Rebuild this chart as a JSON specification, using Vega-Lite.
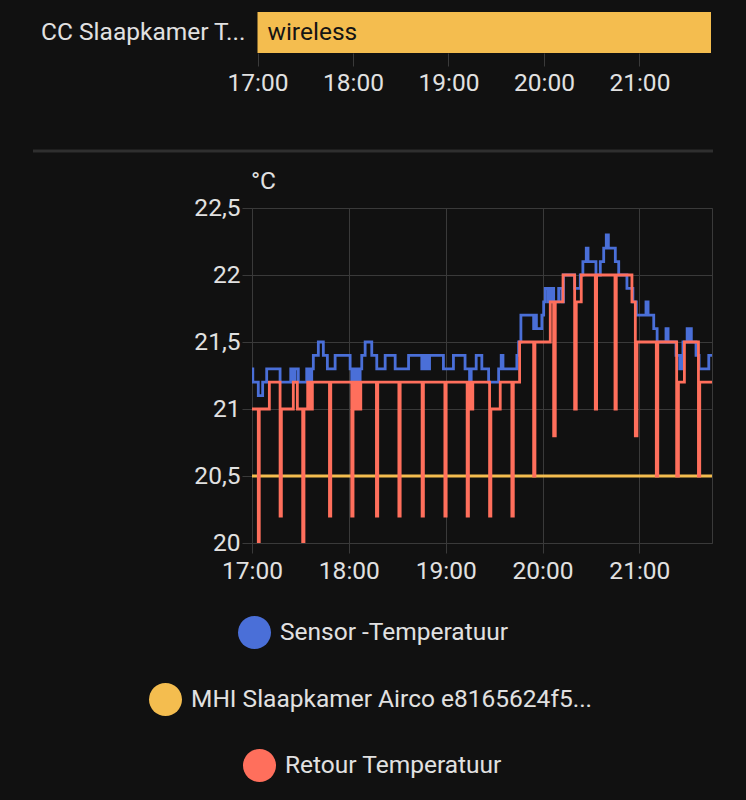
{
  "$schema": "https://vega.github.io/schema/vega-lite/v6.json",
  "background": "#111111",
  "padding": {"left": 31, "top": 12, "right": 34, "bottom": 18},
  "bounds": "flush",
  "spacing": 0,
  "config": {
    "font": "Roboto",
    "view": {"stroke": null},
    "axis": {"labelColor": "#e1e1e1", "labelFont": "Roboto", "labelFontSize": 24.5, "labelFlush": false, "titleColor": "#e1e1e1", "titleFont": "Roboto", "titleFontWeight": "normal", "titleFontSize": 24.5, "gridColor": "#3a3a3a", "tickColor": "#3a3a3a", "domain": false}
  },
  "datasets": {
    "timeline": [{"entity": "CC Slaapkamer T...", "status": "wireless", "start": "2024-01-01T17:00:00", "end": "2024-01-01T21:45:00"}],
    "divider": [{"start": 0, "end": 1, "level": 0.368}],
    "sensor": [
      {"time":"2024-01-01T17:00:00","value":21.3},{"time":"2024-01-01T17:00:30","value":21.2},{"time":"2024-01-01T17:03:54","value":21.1},{"time":"2024-01-01T17:06:36","value":21.2},{"time":"2024-01-01T17:09:06","value":21.3},{"time":"2024-01-01T17:17:24","value":21.2},{"time":"2024-01-01T17:24:00","value":21.3},{"time":"2024-01-01T17:25:36","value":21.2},{"time":"2024-01-01T17:26:42","value":21.3},{"time":"2024-01-01T17:28:42","value":21.2},{"time":"2024-01-01T17:33:54","value":21.3},{"time":"2024-01-01T17:35:00","value":21.2},{"time":"2024-01-01T17:35:36","value":21.3},{"time":"2024-01-01T17:36:24","value":21.2},{"time":"2024-01-01T17:37:00","value":21.3},{"time":"2024-01-01T17:38:00","value":21.4},{"time":"2024-01-01T17:41:06","value":21.5},{"time":"2024-01-01T17:44:12","value":21.4},{"time":"2024-01-01T17:46:42","value":21.3},{"time":"2024-01-01T17:51:30","value":21.4},
      {"time":"2024-01-01T18:00:48","value":21.3},{"time":"2024-01-01T18:01:48","value":21.2},{"time":"2024-01-01T18:02:48","value":21.3},{"time":"2024-01-01T18:03:54","value":21.2},{"time":"2024-01-01T18:04:54","value":21.3},{"time":"2024-01-01T18:06:00","value":21.2},{"time":"2024-01-01T18:07:00","value":21.3},{"time":"2024-01-01T18:08:00","value":21.4},{"time":"2024-01-01T18:10:06","value":21.5},{"time":"2024-01-01T18:14:12","value":21.4},{"time":"2024-01-01T18:17:18","value":21.3},{"time":"2024-01-01T18:22:30","value":21.4},{"time":"2024-01-01T18:28:42","value":21.3},{"time":"2024-01-01T18:37:00","value":21.4},{"time":"2024-01-01T18:45:12","value":21.3},{"time":"2024-01-01T18:46:12","value":21.4},{"time":"2024-01-01T18:47:18","value":21.3},{"time":"2024-01-01T18:48:18","value":21.4},{"time":"2024-01-01T18:49:18","value":21.3},{"time":"2024-01-01T18:50:00","value":21.4},{"time":"2024-01-01T18:58:36","value":21.3},
      {"time":"2024-01-01T19:04:48","value":21.4},{"time":"2024-01-01T19:12:00","value":21.3},{"time":"2024-01-01T19:14:48","value":21.2},{"time":"2024-01-01T19:15:48","value":21.3},{"time":"2024-01-01T19:18:54","value":21.4},{"time":"2024-01-01T19:22:24","value":21.3},{"time":"2024-01-01T19:26:36","value":21.2},{"time":"2024-01-01T19:32:48","value":21.3},{"time":"2024-01-01T19:34:24","value":21.4},{"time":"2024-01-01T19:35:30","value":21.3},{"time":"2024-01-01T19:44:06","value":21.4},{"time":"2024-01-01T19:45:12","value":21.5},{"time":"2024-01-01T19:46:36","value":21.7},{"time":"2024-01-01T19:54:30","value":21.6},{"time":"2024-01-01T19:55:30","value":21.7},{"time":"2024-01-01T19:56:12","value":21.6},{"time":"2024-01-01T19:59:36","value":21.7},
      {"time":"2024-01-01T20:00:42","value":21.8},{"time":"2024-01-01T20:01:42","value":21.9},{"time":"2024-01-01T20:03:30","value":21.8},{"time":"2024-01-01T20:04:12","value":21.9},{"time":"2024-01-01T20:05:00","value":21.8},{"time":"2024-01-01T20:05:42","value":21.9},{"time":"2024-01-01T20:06:54","value":21.8},{"time":"2024-01-01T20:10:00","value":21.9},{"time":"2024-01-01T20:12:00","value":21.8},{"time":"2024-01-01T20:13:00","value":22},{"time":"2024-01-01T20:19:54","value":21.9},{"time":"2024-01-01T20:23:24","value":22},{"time":"2024-01-01T20:25:00","value":22.1},{"time":"2024-01-01T20:27:06","value":22.2},{"time":"2024-01-01T20:28:12","value":22.1},{"time":"2024-01-01T20:33:06","value":22},{"time":"2024-01-01T20:35:48","value":22.1},{"time":"2024-01-01T20:37:54","value":22.2},{"time":"2024-01-01T20:39:30","value":22.3},{"time":"2024-01-01T20:40:48","value":22.2},{"time":"2024-01-01T20:45:06","value":22.1},{"time":"2024-01-01T20:47:12","value":22},{"time":"2024-01-01T20:52:18","value":21.9},{"time":"2024-01-01T20:56:00","value":21.8},{"time":"2024-01-01T20:58:06","value":21.7},
      {"time":"2024-01-01T21:04:06","value":21.8},{"time":"2024-01-01T21:05:24","value":21.7},{"time":"2024-01-01T21:08:54","value":21.6},{"time":"2024-01-01T21:11:00","value":21.5},{"time":"2024-01-01T21:16:30","value":21.6},{"time":"2024-01-01T21:17:48","value":21.5},{"time":"2024-01-01T21:22:42","value":21.4},{"time":"2024-01-01T21:25:00","value":21.3},{"time":"2024-01-01T21:26:30","value":21.4},{"time":"2024-01-01T21:27:00","value":21.5},{"time":"2024-01-01T21:29:36","value":21.6},{"time":"2024-01-01T21:30:18","value":21.5},{"time":"2024-01-01T21:31:00","value":21.6},{"time":"2024-01-01T21:32:12","value":21.5},{"time":"2024-01-01T21:35:06","value":21.4},{"time":"2024-01-01T21:37:00","value":21.3},{"time":"2024-01-01T21:43:00","value":21.4},{"time":"2024-01-01T21:45:00","value":21.4}
    ],
    "mhi": [{"time":"2024-01-01T17:00:00","value":20.5},{"time":"2024-01-01T21:45:00","value":20.5}],
    "retour": [
      {"time":"2024-01-01T17:00:00","value":21},{"time":"2024-01-01T17:03:54","value":20},{"time":"2024-01-01T17:04:30","value":21},{"time":"2024-01-01T17:10:45","value":21.2},{"time":"2024-01-01T17:17:24","value":20.2},{"time":"2024-01-01T17:18:12","value":21},{"time":"2024-01-01T17:25:36","value":21.2},{"time":"2024-01-01T17:28:06","value":21},{"time":"2024-01-01T17:31:24","value":20},{"time":"2024-01-01T17:32:12","value":21},{"time":"2024-01-01T17:34:30","value":21.2},{"time":"2024-01-01T17:35:06","value":21},{"time":"2024-01-01T17:36:00","value":21.2},{"time":"2024-01-01T17:36:36","value":21},{"time":"2024-01-01T17:37:24","value":21.2},{"time":"2024-01-01T17:48:00","value":20.2},{"time":"2024-01-01T17:48:48","value":21.2},
      {"time":"2024-01-01T18:01:48","value":20.2},{"time":"2024-01-01T18:02:36","value":21.2},{"time":"2024-01-01T18:03:18","value":21},{"time":"2024-01-01T18:04:18","value":21.2},{"time":"2024-01-01T18:04:54","value":21},{"time":"2024-01-01T18:06:00","value":21.2},{"time":"2024-01-01T18:06:36","value":21},{"time":"2024-01-01T18:07:24","value":21.2},{"time":"2024-01-01T18:17:06","value":20.2},{"time":"2024-01-01T18:17:54","value":21.2},{"time":"2024-01-01T18:31:00","value":20.2},{"time":"2024-01-01T18:31:48","value":21.2},{"time":"2024-01-01T18:45:24","value":20.2},{"time":"2024-01-01T18:46:12","value":21.2},{"time":"2024-01-01T18:59:30","value":20.2},
      {"time":"2024-01-01T19:00:18","value":21.2},{"time":"2024-01-01T19:13:18","value":20.2},{"time":"2024-01-01T19:14:06","value":21.2},{"time":"2024-01-01T19:14:48","value":21},{"time":"2024-01-01T19:15:36","value":21.2},{"time":"2024-01-01T19:16:24","value":21},{"time":"2024-01-01T19:16:48","value":21.2},{"time":"2024-01-01T19:27:12","value":20.2},{"time":"2024-01-01T19:28:00","value":21},{"time":"2024-01-01T19:33:48","value":21.2},{"time":"2024-01-01T19:41:00","value":20.2},{"time":"2024-01-01T19:41:54","value":21.2},{"time":"2024-01-01T19:45:48","value":21.5},{"time":"2024-01-01T19:54:30","value":20.5},{"time":"2024-01-01T19:55:18","value":21.5},
      {"time":"2024-01-01T20:04:48","value":21.8},{"time":"2024-01-01T20:06:54","value":20.8},{"time":"2024-01-01T20:07:54","value":21.8},{"time":"2024-01-01T20:12:42","value":22},{"time":"2024-01-01T20:19:54","value":21},{"time":"2024-01-01T20:20:54","value":21.8},{"time":"2024-01-01T20:24:00","value":22},{"time":"2024-01-01T20:32:42","value":21},{"time":"2024-01-01T20:33:30","value":22},{"time":"2024-01-01T20:44:54","value":21},{"time":"2024-01-01T20:45:42","value":22},{"time":"2024-01-01T20:55:24","value":21.8},{"time":"2024-01-01T20:57:30","value":20.8},{"time":"2024-01-01T20:58:30","value":21.5},
      {"time":"2024-01-01T21:10:30","value":20.5},{"time":"2024-01-01T21:11:24","value":21.5},{"time":"2024-01-01T21:23:06","value":20.5},{"time":"2024-01-01T21:24:12","value":21.2},{"time":"2024-01-01T21:27:54","value":21.5},{"time":"2024-01-01T21:36:36","value":20.5},{"time":"2024-01-01T21:37:24","value":21.2},{"time":"2024-01-01T21:45:00","value":21.2}
    ]
  },
  "vconcat": [
    {
      "width": 460,
      "height": 41,
      "data": {"name": "timeline"},
      "layer": [
        {
          "mark": {"type": "bar", "color": "#f4bd4f"},
          "encoding": {
            "y": {"field": "entity", "type": "nominal", "title": null, "scale": {"paddingInner": 0, "paddingOuter": 0}, "axis": {"ticks": false, "labelPadding": 7, "labelLimit": 260}},
            "x": {"field": "start", "type": "temporal", "title": null, "scale": {"range": [5.5, 459]}, "axis": {"format": "%H:%M", "tickCount": 5, "grid": false, "tickSize": 13, "labelPadding": 5}},
            "x2": {"field": "end"}
          }
        },
        {
          "mark": {"type": "text", "align": "left", "dx": 10, "color": "#141414", "fontSize": 24.5, "font": "Roboto"},
          "encoding": {
            "y": {"field": "entity", "type": "nominal"},
            "x": {"field": "start", "type": "temporal"},
            "text": {"field": "status"}
          }
        }
      ]
    },
    {
      "width": 460,
      "height": 155,
      "data": {"name": "divider"},
      "mark": {"type": "rule", "strokeWidth": 3, "color": "#2f2f2f"},
      "encoding": {
        "x": {"field": "start", "type": "quantitative", "scale": {"domain": [0, 1], "range": [-219, 461]}, "axis": null},
        "x2": {"field": "end"},
        "y": {"field": "level", "type": "quantitative", "scale": {"domain": [0, 1]}, "axis": null}
      }
    },
    {
      "width": 460,
      "height": 335,
      "view": {"stroke": "#3a3a3a"},
      "encoding": {
        "x": {"field": "time", "type": "temporal", "title": null, "axis": {"format": "%H:%M", "tickCount": 5, "tickSize": 10, "labelPadding": 6}},
        "y": {"field": "value", "type": "quantitative", "title": "°C", "scale": {"domain": [20, 22.5]}, "axis": {"values": [20, 20.5, 21, 21.5, 22, 22.5], "labelExpr": "replace(format(datum.value, '~g'), '.', ',')", "tickSize": 10, "labelPadding": 2, "titleAngle": 0, "titleAlign": "center", "titleBaseline": "middle", "titleX": 11, "titleY": -27}}
      },
      "layer": [
        {
          "data": {"name": "sensor"},
          "mark": {"type": "line", "interpolate": "step-after", "strokeWidth": 2.8, "clip": true},
          "encoding": {
            "color": {"datum": "Sensor -Temperatuur", "scale": {"range": ["#4a6fd8"]}, "legend": {"title": null, "orient": "none", "legendX": -14, "legendY": 408, "symbolType": "circle", "symbolSize": 1089, "symbolStrokeWidth": 0, "symbolFillColor": "#4a6fd8", "labelColor": "#e1e1e1", "labelFont": "Roboto", "labelFontSize": 24.5, "labelLimit": 500, "labelOffset": 9}}
          }
        },
        {
          "data": {"name": "mhi"},
          "mark": {"type": "line", "interpolate": "step-after", "strokeWidth": 2.8, "clip": true},
          "encoding": {
            "color": {"datum": "MHI Slaapkamer Airco e8165624f5...", "scale": {"range": ["#f4bd4f"]}, "legend": {"title": null, "orient": "none", "legendX": -103, "legendY": 475, "symbolType": "circle", "symbolSize": 1089, "symbolStrokeWidth": 0, "symbolFillColor": "#f4bd4f", "labelColor": "#e1e1e1", "labelFont": "Roboto", "labelFontSize": 24.5, "labelLimit": 500, "labelOffset": 9}}
          }
        },
        {
          "data": {"name": "retour"},
          "mark": {"type": "line", "interpolate": "step-after", "strokeWidth": 2.8, "clip": true},
          "encoding": {
            "color": {"datum": "Retour Temperatuur", "scale": {"range": ["#ff6f5c"]}, "legend": {"title": null, "orient": "none", "legendX": -9, "legendY": 541, "symbolType": "circle", "symbolSize": 1089, "symbolStrokeWidth": 0, "symbolFillColor": "#ff6f5c", "labelColor": "#e1e1e1", "labelFont": "Roboto", "labelFontSize": 24.5, "labelLimit": 500, "labelOffset": 9}}
          }
        }
      ],
      "resolve": {"scale": {"color": "independent"}}
    }
  ]
}
